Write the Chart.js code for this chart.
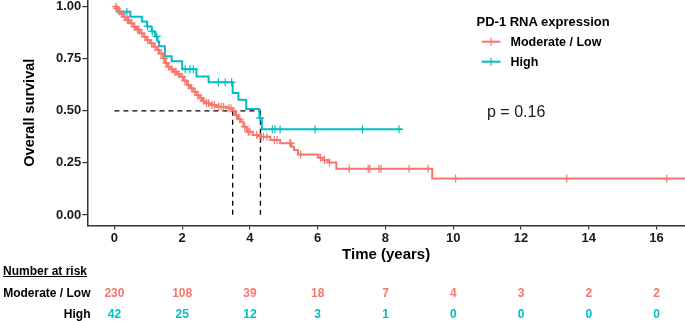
<!DOCTYPE html>
<html><head><meta charset="utf-8">
<script src="https://cdn.jsdelivr.net/npm/chart.js@4.4.1/dist/chart.umd.min.js"></script>
<style>
html,body{margin:0;padding:0;background:#fff;}
#wrap{position:relative;width:685px;height:321px;overflow:hidden;font-family:"Liberation Sans",Arial,sans-serif;}
canvas{position:absolute;left:0;top:0;}
.t{position:absolute;white-space:nowrap;line-height:16px;transform:translateY(-50%);}
.c{transform:translate(-50%,-50%);}
.r{transform:translate(-100%,-50%);}
</style></head><body>
<div id="wrap"><canvas id="c" width="685" height="321"></canvas></div>
<script>
// ---- data ----
const seriesNames = ['Moderate / Low', 'High'];
const lowTime = [0,0.05,0.12,0.2,0.27,0.35,0.45,0.56,0.65,0.75,0.86,0.95,1.05,1.15,1.25,1.33,1.44,1.5,1.56,1.65,1.74,1.86,1.94,2.04,2.14,2.23,2.33,2.43,2.52,2.59,2.67,2.82,3.02,3.32,3.49,3.56,3.65,3.73,3.81,3.91,4.08,4.31,4.6,4.89,5.23,5.3,5.42,6.02,6.15,6.3,6.55,9.38,16.84];
const lowSurv = [1,0.991,0.978,0.965,0.952,0.935,0.92,0.904,0.89,0.872,0.856,0.84,0.824,0.808,0.792,0.775,0.752,0.73,0.712,0.70,0.688,0.676,0.664,0.645,0.624,0.608,0.592,0.575,0.56,0.548,0.536,0.528,0.52,0.512,0.50,0.48,0.46,0.448,0.424,0.40,0.384,0.376,0.36,0.344,0.328,0.312,0.29,0.275,0.264,0.252,0.222,0.175,0.175];
const lowCensor = [0.04,0.08,0.15,0.22,0.3,0.38,0.42,0.5,0.6,0.68,0.72,0.8,0.9,0.98,1.1,1.2,1.3,1.38,1.46,1.53,1.6,1.7,1.78,1.82,1.9,2.0,2.08,2.18,2.28,2.38,2.46,2.56,2.63,2.72,2.78,2.88,2.95,3.08,3.15,3.22,3.38,3.44,3.6,3.7,3.85,3.95,4.0,4.2,4.33,4.4,4.5,4.72,4.8,5.18,5.2,5.5,6.08,6.2,6.35,6.93,7.49,7.54,7.81,7.87,8.7,9.26,10.07,13.35,16.3];
const highTime = [0,0.08,0.47,0.81,0.96,1.1,1.2,1.27,1.32,1.49,1.69,2.0,2.42,2.78,3.49,3.66,3.89,4.28,4.35,8.48];
const highSurv = [1,0.976,0.952,0.929,0.905,0.881,0.857,0.833,0.81,0.762,0.738,0.70,0.665,0.637,0.586,0.553,0.509,0.465,0.411,0.411];
const highCensor = [0.37,0.98,1.12,1.25,2.09,2.23,2.33,3.07,3.27,3.46,4.3,4.66,4.74,4.89,5.92,7.32,8.40];
const medianTimes = [3.49, 4.31];
const xTicks = [0,2,4,6,8,10,12,14,16];
const yTicks = [0,0.25,0.5,0.75,1];
const riskTimes = [0,2,4,6,8,10,12,14,16];
const riskLow = [230,108,39,18,7,4,3,2,2];
const riskHigh = [42,25,12,3,1,0,0,0,0];
const pValueText = 'p = 0.16';
const legendTitle = 'PD-1 RNA expression';

// ---- chart ----
const RED = '#F8766D', TEAL = '#00BFC4';
const FAM = '"Liberation Sans", Arial, sans-serif';
function pts(t, s){ return t.map((v,i)=>({x:v,y:s[i]})); }
function survAt(t, s, x){ let v = s[0]; for (let i=0;i<t.length;i++){ if (t[i] <= x) v = s[i]; } return v; }

const datasets = [
  {type:'line', data:pts(lowTime,lowSurv), stepped:'before', borderColor:RED, borderWidth:2, pointRadius:0, fill:false},
  {type:'scatter', data:lowCensor.map(x=>({x, y:survAt(lowTime,lowSurv,x)})), pointStyle:'cross', pointRadius:4, borderColor:RED, backgroundColor:RED, borderWidth:1.2},
  {type:'line', data:pts(highTime,highSurv), stepped:'before', borderColor:TEAL, borderWidth:2, pointRadius:0, fill:false},
  {type:'scatter', data:highCensor.map(x=>({x, y:survAt(highTime,highSurv,x)})), pointStyle:'cross', pointRadius:4, borderColor:TEAL, backgroundColor:TEAL, borderWidth:1.2},
  {type:'line', data:[{x:0,y:0.5},{x:Math.max(...medianTimes),y:0.5}], borderColor:'#000', borderDash:[5,4], borderWidth:1.3, pointRadius:0, fill:false}
];
medianTimes.forEach(m => datasets.push({type:'line', data:[{x:m,y:0.5},{x:m,y:0}], borderColor:'#000', borderDash:[5,4], borderWidth:1.3, pointRadius:0, fill:false}));

const keyPlugin = {
  id:'keys',
  afterDatasetsDraw(chart){
    const ctx = chart.ctx;
    [[RED,41.7],[TEAL,61.7]].forEach(([col,y])=>{
      ctx.save();
      ctx.strokeStyle = col; ctx.lineWidth = 2;
      ctx.beginPath(); ctx.moveTo(481.5,y); ctx.lineTo(500.5,y); ctx.stroke();
      ctx.lineWidth = 1.2;
      ctx.beginPath(); ctx.moveTo(491,y-4); ctx.lineTo(491,y+4); ctx.stroke();
      ctx.restore();
    });
  }
};

function noPad(s){ s.paddingLeft = 0; s.paddingRight = 0; s.paddingTop = 0; s.paddingBottom = 0; }

const chart = new Chart(document.getElementById('c'), {
  type:'line',
  data:{datasets},
  options:{
    responsive:false, animation:false, devicePixelRatio:1, events:[],
    layout:{padding:0, autoPadding:false},
    plugins:{legend:{display:false}, tooltip:{enabled:false}},
    scales:{
      x:{type:'linear', min:-0.8, max:16.84,
        afterBuildTicks:s=>{ s.ticks = xTicks.map(v=>({value:v})); },
        afterFit:s=>{ s.height = 95.6; noPad(s); },
        ticks:{font:{family:FAM,size:13,weight:'bold'}, color:'#1a1a1a', padding:1, maxRotation:0, autoSkip:false, callback:v=>String(v)},
        grid:{drawOnChartArea:false, drawTicks:true, tickLength:4, color:'#333', lineWidth:1.2},
        border:{display:true, color:'#333', width:1.5},
        title:{display:true, text:'Time (years)', font:{family:FAM,size:15,weight:'bold'}, color:'#000', padding:{top:0,bottom:57.5}}
      },
      y:{type:'linear', min:-0.05, max:1.032,
        afterBuildTicks:s=>{ s.ticks = yTicks.map(v=>({value:v})); },
        afterFit:s=>{ s.width = 87.3; noPad(s); },
        ticks:{font:{family:FAM,size:13,weight:'bold'}, color:'#1a1a1a', padding:1, callback:v=>Number(v).toFixed(2)},
        grid:{drawOnChartArea:false, drawTicks:true, tickLength:5, color:'#333', lineWidth:1.2},
        border:{display:true, color:'#333', width:1.5},
        title:{display:true, text:'Overall survival', font:{family:FAM,size:14.5,weight:'bold'}, color:'#000', padding:{top:21,bottom:0}}
      }
    }
  },
  plugins:[keyPlugin]
});

// ---- overlay text ----
const wrap = document.getElementById('wrap');
function addText(txt, x, y, cls, style){
  const d = document.createElement('div');
  d.className = 't ' + (cls||'');
  d.textContent = txt;
  d.style.left = x + 'px'; d.style.top = y + 'px';
  Object.assign(d.style, style||{});
  wrap.appendChild(d);
  return d;
}
addText(legendTitle, 476.5, 21.7, '', {fontWeight:'bold', fontSize:'13px', color:'#000'});
addText(seriesNames[0], 510.5, 41.7, '', {fontWeight:'bold', fontSize:'12.5px', color:'#000'});
addText(seriesNames[1], 510.5, 61.7, '', {fontWeight:'bold', fontSize:'12.5px', color:'#000'});
addText(pValueText, 487, 111.7, '', {fontSize:'16px', color:'#1a1a1a'});
addText('Number at risk', 3, 271, '', {fontWeight:'bold', fontSize:'12px', color:'#000', textDecoration:'underline'});
addText(seriesNames[0], 90.5, 293.3, 'r', {fontWeight:'bold', fontSize:'12px', color:'#000'});
addText(seriesNames[1], 90.5, 314, 'r', {fontWeight:'bold', fontSize:'12px', color:'#000'});
const xs = chart.scales.x;
riskTimes.forEach((t,i)=>{
  const px = xs.getPixelForValue(t);
  addText(String(riskLow[i]), px, 293.3, 'c', {fontWeight:'bold', fontSize:'12px', color:RED});
  addText(String(riskHigh[i]), px, 314, 'c', {fontWeight:'bold', fontSize:'12px', color:TEAL});
});
</script>
</body></html>
